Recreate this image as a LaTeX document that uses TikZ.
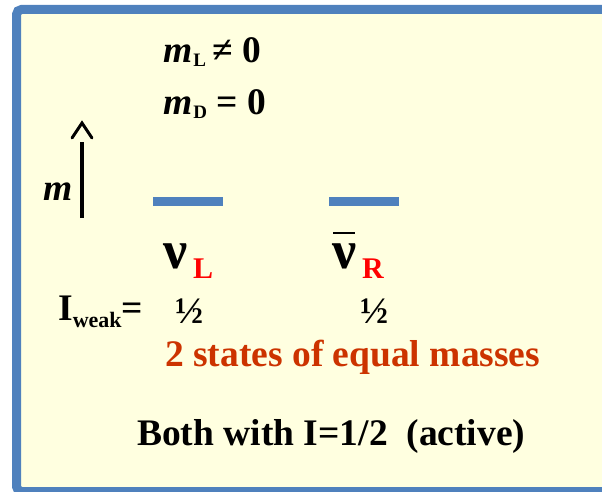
\documentclass[tikz,border=0pt]{standalone}
\usepackage{fontspec}
\setmainfont{Liberation Serif}
\usetikzlibrary{arrows.meta}
\definecolor{frameblue}{RGB}{79,129,189}
\definecolor{paleyellow}{RGB}{255,255,224}
\definecolor{rustred}{RGB}{204,51,0}
\newcommand{\bigtxt}{\fontsize{37.5}{45}\selectfont\bfseries}
\newcommand{\subtxt}{\fontsize{19}{22}\selectfont\bfseries}
\newcommand{\nutxt}{\fontsize{54}{60}\selectfont\bfseries}
\newcommand{\chiraltxt}{\fontsize{30}{34}\selectfont\bfseries}

\begin{document}
\begin{tikzpicture}[x=1pt, y=-1pt,
  lbl/.style={inner sep=0pt, anchor=base west, font=\bigtxt},
  level/.style={frameblue, line width=9pt},
  axis/.style={line width=3.5pt}]
  \useasboundingbox (0,0) rectangle (602,492);
  %% ── Frame ──────────────────────────────────────────────────
  \draw[frameblue, fill=paleyellow, line width=9pt, rounded corners=5pt]
    (16.5,9.5) rectangle (640,491.5);
  %% ── Mass relations ─────────────────────────────────────────
  \node[lbl] (mL) at (163,63) {\textit{m}\hspace{1pt}\raisebox{-4pt}{\subtxt L}\hspace{6pt}≠ 0};
  \node[lbl] (mD) at (163,114) {\textit{m}\hspace{1pt}\raisebox{-4pt}{\subtxt D} = 0};
  %% ── Mass axis ──────────────────────────────────────────────
  \coordinate (mlo) at (82,218);
  \coordinate (mhi) at (82,142);
  \draw[axis] (mlo) -- (mhi);
  \draw[line width=3pt, line cap=round, line join=miter] (72,138) -- (82,123) -- (92,138);
  \node[lbl, font=\bigtxt\itshape] (maxis) at (43,200) {m};
  %% ── Levels: nu_L and anti-nu_R ─────────────────────────────
  \foreach \x in {153,329}{
    \draw[level] (\x,201.5) -- ++(70,0);
  }
  \node[lbl, font=\nutxt] (nuL) at (163,268) {ν};
  \node[lbl, font=\chiraltxt, text=red] (chL) at (193,278) {L};
  \node[lbl, font=\nutxt] (nuR) at (332,268) {ν};
  \draw[line width=2.5pt] (333,233) -- (355,233);
  \node[lbl, font=\chiraltxt, text=red] (chR) at (362,278) {R};
  %% ── Weak isospin ───────────────────────────────────────────
  \node[lbl] (iweak) at (58,320) {I\raisebox{-7pt}{\fontsize{22}{24}\selectfont\bfseries weak}=};
  \node[lbl] (halfL) at (175,323) {½};
  \node[lbl] (halfR) at (360,323) {½};
  %% ── Captions ───────────────────────────────────────────────
  \node[lbl, text=rustred] (equal) at (165,366) {2 states of equal masses};
  \node[lbl] (both) at (137,445) {Both with I=1/2\ \ (active)};
\end{tikzpicture}
\end{document}
